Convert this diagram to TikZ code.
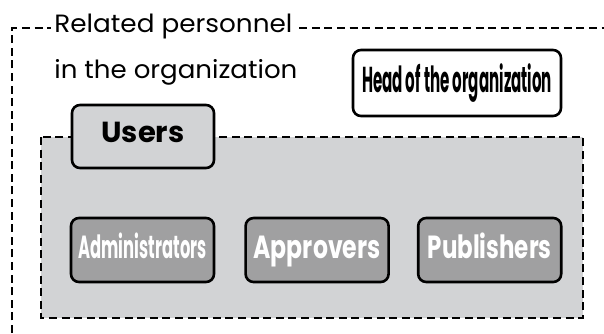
\documentclass[tikz,border=0pt]{standalone}
\usepackage{fontspec}
\setmainfont{Poppins}
\usepackage{graphicx}
\usetikzlibrary{positioning}
\definecolor{paleGray}{RGB}{210,211,213}
\definecolor{roleGray}{RGB}{160,160,161}
\newcommand{\squeeze}[2]{\resizebox{#1}{\height}{#2}}
\tikzset{
  frame/.style={draw, line width=1.3pt, dash pattern=on 4pt off 2.3pt},
  lbl/.style={font=\fontsize{12.5}{14}\selectfont, fill=white, inner sep=1.5pt},
  box/.style={draw, line width=1.3pt, rounded corners=4pt, align=center, inner sep=0pt},
  role/.style={box, fill=roleGray, text=white, font=\bfseries\fontsize{16}{18}\selectfont,
    minimum width=71.5pt, minimum height=32pt, text height=11.5pt, text depth=3.5pt}
}
\begin{document}
\begin{tikzpicture}[x=0.5pt, y=-0.5pt]
  \useasboundingbox (0,0) rectangle (604,333);
  % organization frame, open to the right and bottom
  \draw[frame] (12,333) -- (12,28) -- (604,28);
  \node[lbl, anchor=base west] (title) at (51,32) {\squeeze{119pt}{Related personnel}};
  \node[lbl, anchor=base west] (title2) at (51,78) {\squeeze{121.5pt}{in the organization}};
  \node[box, fill=white, minimum width=104pt, minimum height=33pt, text height=13pt, text depth=4pt,
    font=\bfseries\fontsize{18}{20}\selectfont] (head) at (457,83) {\squeeze{95pt}{Head of the organization}};

  % users area
  \draw[frame, fill=paleGray] (41,137) rectangle (583,318);
  \node[box, fill=paleGray, minimum width=71pt, minimum height=31.5pt, text height=10.5pt, text depth=5pt,
    font=\bfseries\fontsize{14.5}{16}\selectfont] (users) at (143,136.5) {Users};

  \node[role] (admins) at (142.5,250) {\squeeze{64pt}{Administrators}};
  \node[role, right=14.5pt of admins] (approvers) {\squeeze{63.5pt}{Approvers}};
  \node[role, right=13.5pt of approvers] (publishers) {\squeeze{62pt}{Publishers}};
\end{tikzpicture}
\end{document}
